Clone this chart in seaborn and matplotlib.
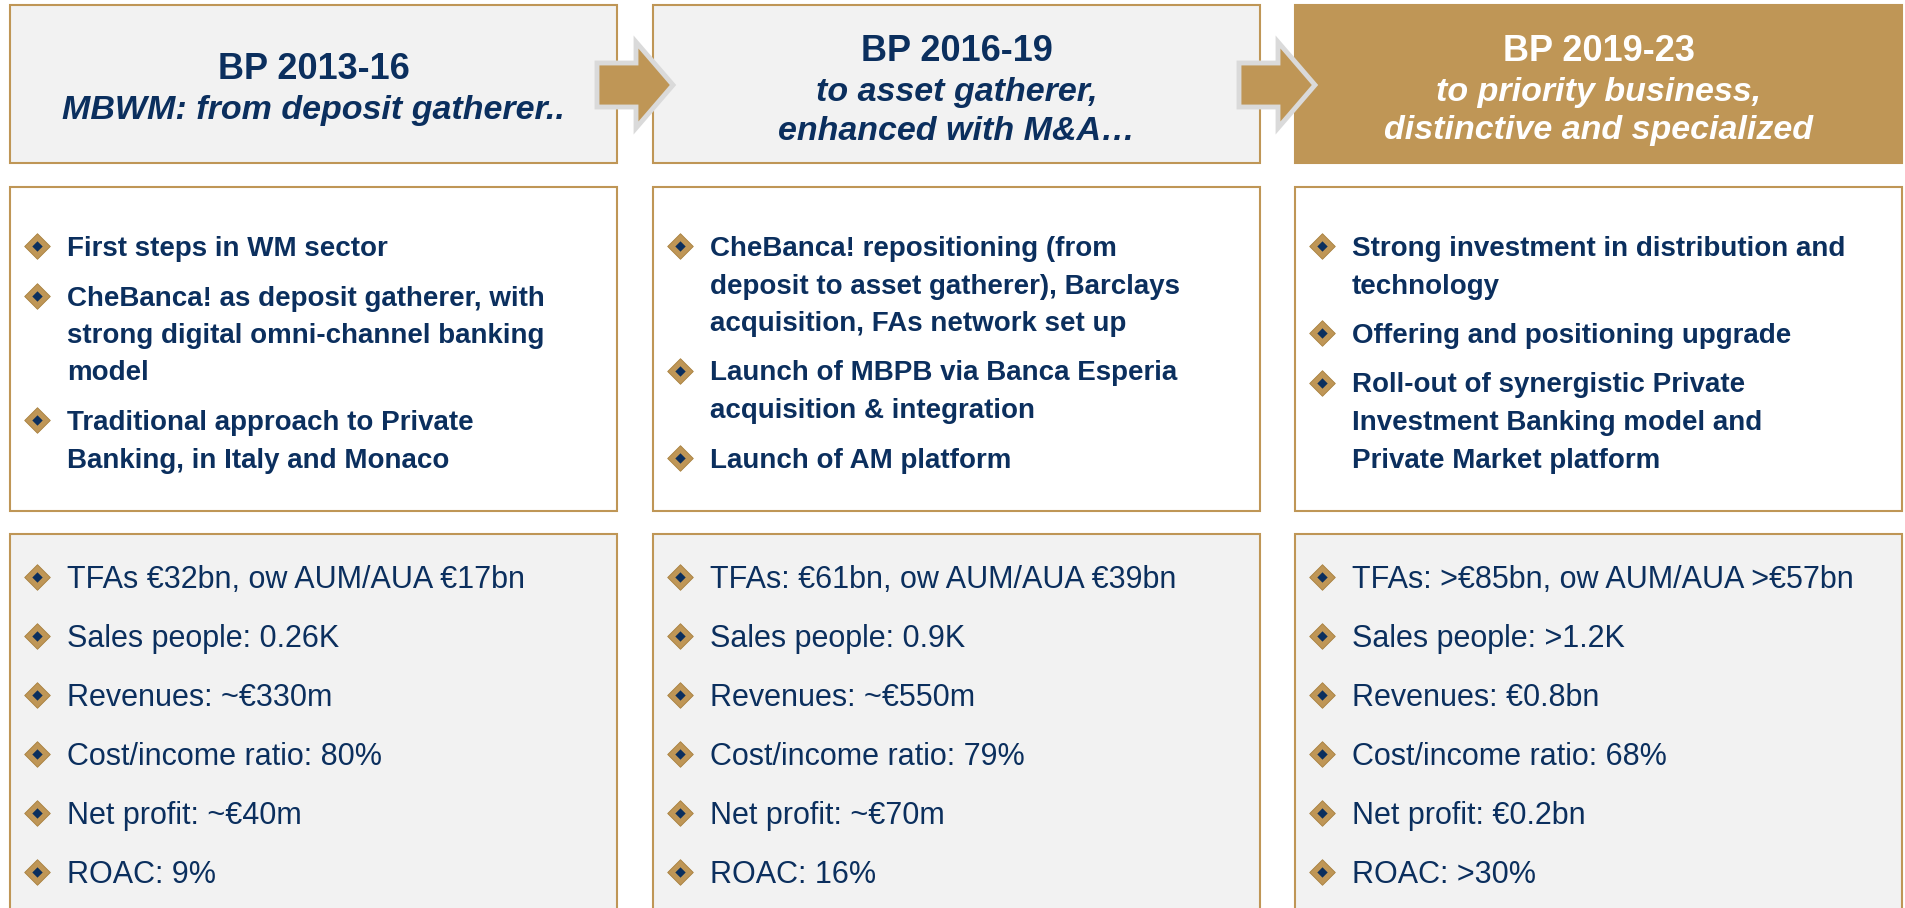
import matplotlib
matplotlib.use("Agg")
import matplotlib.pyplot as plt
import seaborn as sns
from matplotlib.patches import Rectangle, Polygon

# texts of the three business plans
plan_titles = ["BP 2013-16", "BP 2016-19", "BP 2019-23"]
plan_subtitles = [
    ["MBWM: from deposit gatherer.."],
    ["to asset gatherer,", "enhanced with M&A…"],
    ["to priority business,", "distinctive and specialized"],
]
strategy_bullets = [
    [["First steps in WM sector"],
     ["CheBanca! as deposit gatherer, with", "strong digital omni-channel banking", "model"],
     ["Traditional approach to Private", "Banking, in Italy and Monaco"]],
    [["CheBanca! repositioning (from", "deposit to asset gatherer), Barclays", "acquisition, FAs network set up"],
     ["Launch of MBPB via Banca Esperia", "acquisition & integration"],
     ["Launch of AM platform"]],
    [["Strong investment in distribution and", "technology"],
     ["Offering and positioning upgrade"],
     ["Roll-out of synergistic Private", "Investment Banking model and", "Private Market platform"]],
]
kpi_bullets = [
    ["TFAs €32bn, ow AUM/AUA €17bn", "Sales people: 0.26K", "Revenues: ~€330m",
     "Cost/income ratio: 80%", "Net profit: ~€40m", "ROAC: 9%"],
    ["TFAs: €61bn, ow AUM/AUA €39bn", "Sales people: 0.9K", "Revenues: ~€550m",
     "Cost/income ratio: 79%", "Net profit: ~€70m", "ROAC: 16%"],
    ["TFAs: >€85bn, ow AUM/AUA >€57bn", "Sales people: >1.2K", "Revenues: €0.8bn",
     "Cost/income ratio: 68%", "Net profit: €0.2bn", "ROAC: >30%"],
]

navy = "#0B2F5E"
gold = "#BF9656"
light = "#F2F2F2"

sns.set_theme(style="white")
plt.rcParams["font.family"] = ["Liberation Sans", "DejaVu Sans"]

fig = plt.figure(figsize=(19.06, 9.08), dpi=100)
ax = fig.add_axes([0, 0, 1, 1])
ax.set_xlim(0, 1906)
ax.set_ylim(908, 0)
ax.axis("off")

col_left = [10, 653, 1295]
col_width = 607


def bullet(x, y):
    ax.scatter([x], [y], marker="D", s=170, color=gold, edgecolor="#A8803F", linewidth=0.6, zorder=5)
    ax.scatter([x], [y], marker="D", s=28, color=navy, linewidth=0, zorder=6)


for i, x0 in enumerate(col_left):
    xc = x0 + col_width / 2
    head_fill = gold if i == 2 else light
    head_txt = "white" if i == 2 else navy
    ax.add_patch(Rectangle((x0, 5), col_width, 158, facecolor=head_fill, edgecolor=gold, lw=1.5, zorder=1))
    ax.add_patch(Rectangle((x0, 187), col_width, 324, facecolor="white", edgecolor=gold, lw=1.5, zorder=1))
    ax.add_patch(Rectangle((x0, 534), col_width, 400, facecolor=light, edgecolor=gold, lw=1.5, zorder=1))

    # header
    subs = plan_subtitles[i]
    y = 66 if len(subs) == 1 else 48
    ax.text(xc, y + 13, plan_titles[i], ha="center", va="baseline", fontsize=26,
            fontweight="bold", color=head_txt, zorder=3)
    y += 41
    for s in subs:
        ax.text(xc, y + 12, s, ha="center", va="baseline", fontsize=24.5, fontweight="bold",
                fontstyle="italic", color=head_txt, zorder=3)
        y += 38.5

    # strategy bullets
    y = 246
    for item in strategy_bullets[i]:
        bullet(x0 + 27, y)
        for line in item:
            ax.text(x0 + 57, y + 10, line, ha="left", va="baseline", fontsize=20,
                    fontweight="bold", color=navy, zorder=3)
            y += 37.5
        y += 49.5 - 37.5

    # kpi bullets
    y = 577
    for line in kpi_bullets[i]:
        bullet(x0 + 27, y)
        ax.text(x0 + 57, y + 11, line, ha="left", va="baseline", fontsize=22,
                color=navy, zorder=3)
        y += 59

    # arrow into next plan
    if i < 2:
        nx = col_left[i + 1]
        arrow = [(nx - 56, 63), (nx - 17, 63), (nx - 17, 42), (nx + 20, 85),
                 (nx - 17, 128), (nx - 17, 107), (nx - 56, 107)]
        ax.add_patch(Polygon(arrow, closed=True, facecolor=gold, edgecolor="#DADADA",
                             lw=3.5, joinstyle="miter", zorder=4))

fig.savefig("out.png", dpi=100)
